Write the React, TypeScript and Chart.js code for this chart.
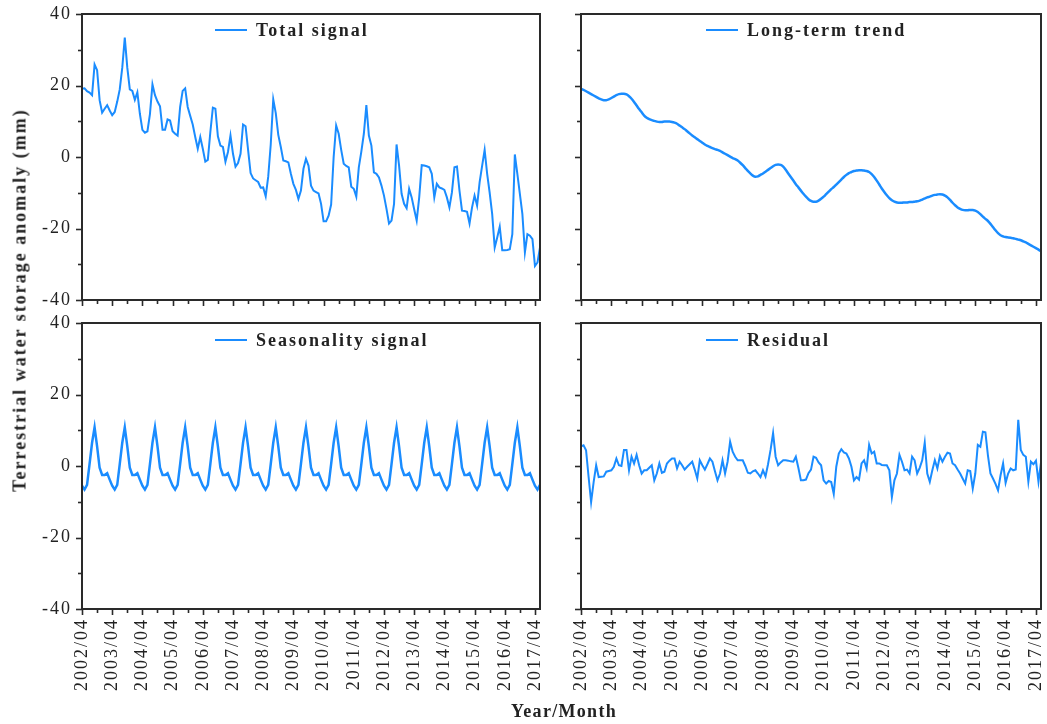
import React, { useEffect, useRef } from 'react';
import { Chart, registerables } from 'chart.js';

Chart.register(...registerables);

// ---------- categories (monthly, 2002/04 .. 2017/06) ----------
const MONTHS: string[] = [];
for (let i = 0; i < 183; i++) {
  const m = 3 + i;
  const yr = 2002 + Math.floor(m / 12);
  const mo = (m % 12) + 1;
  MONTHS.push(`${yr}/${String(mo).padStart(2, '0')}`);
}

const Y_MIN = -40;
const Y_MAX = 40;
const Y_STEP = 10;
const Y_LABEL_STEP = 20;

// ---------- series values (mm) ----------
const TOTAL_SIGNAL = [
  19.1, 19.2, 18.4, 18.0, 17.3, 25.9, 24.3, 15.9, 12.4, 13.5, 14.5, 13.0,
  11.7, 12.6, 15.5, 18.9, 25.0, 33.4, 25.0, 18.9, 18.5, 16.0, 18.1, 12.1,
  7.6, 6.8, 7.2, 12.0, 20.3, 17.3, 15.5, 14.2, 7.6, 7.6, 10.5, 10.2,
  7.2, 6.5, 6.0, 14.0, 18.5, 19.2, 14.0, 11.5, 9.1, 5.6, 2.3, 5.6,
  2.3, -1.3, -0.8, 7.0, 13.8, 13.5, 5.8, 3.2, 2.8, -1.3, 1.4, 6.0,
  0.9, -2.7, -1.7, 0.9, 9.1, 8.6, 2.0, -4.5, -6.0, -6.5, -7.0, -8.6,
  -8.5, -11.0, -5.5, 3.5, 16.1, 12.3, 6.2, 2.8, -1.0, -1.2, -1.5, -4.7,
  -7.5, -9.2, -11.7, -9.4, -3.3, -0.5, -2.4, -8.0, -9.4, -9.8, -10.2, -13.1,
  -18.0, -18.0, -16.4, -13.3, 0.0, 8.8, 6.5, 2.0, -1.9, -2.5, -2.9, -8.3,
  -8.9, -11.1, -2.9, 1.5, 6.5, 14.5, 6.0, 3.2, -4.3, -4.7, -5.7, -8.0,
  -10.8, -14.5, -18.6, -17.8, -13.1, 3.5, -2.4, -10.3, -13.1, -14.3, -8.9, -11.3,
  -14.6, -17.8, -11.3, -2.3, -2.4, -2.6, -2.9, -4.7, -11.3, -7.5, -8.5, -8.8,
  -9.2, -11.3, -14.1, -9.9, -2.9, -2.7, -9.4, -15.0, -15.1, -15.3, -18.6, -14.1,
  -10.8, -13.6, -7.1, -2.5, 2.0, -4.7, -10.0, -16.0, -25.3, -22.5, -19.5, -26.1,
  -26.1, -26.0, -25.8, -21.6, 0.7, -4.7, -10.3, -16.0, -26.7, -21.6, -22.0, -23.0,
  -30.5, -29.5, -25.3,
];

const LONG_TERM_TREND = [
  19.1, 18.8, 18.4, 18.0, 17.6, 17.2, 16.8, 16.4, 16.1, 15.9, 15.9, 16.1,
  16.5, 16.9, 17.3, 17.6, 17.7, 17.7, 17.5, 17.0, 16.3, 15.4, 14.4, 13.4,
  12.5, 11.6, 11.0, 10.6, 10.3, 10.1, 9.9, 9.8, 9.8, 9.9, 9.9, 9.9,
  9.8, 9.6, 9.3, 8.8, 8.3, 7.8, 7.2, 6.6, 6.0, 5.5, 5.0, 4.5,
  4.0, 3.5, 3.1, 2.8, 2.5, 2.2, 2.0, 1.7, 1.3, 0.9, 0.5, 0.1,
  -0.3, -0.6, -1.0, -1.6, -2.3, -3.1, -3.9, -4.6, -5.2, -5.5, -5.4, -5.0,
  -4.6, -4.1, -3.6, -3.1, -2.6, -2.2, -2.1, -2.2, -2.7, -3.6, -4.6, -5.6,
  -6.6, -7.6, -8.5, -9.4, -10.3, -11.1, -11.8, -12.3, -12.5, -12.5, -12.2, -11.7,
  -11.1, -10.4, -9.7, -9.0, -8.4, -7.7, -7.0, -6.3, -5.6, -5.0, -4.5, -4.2,
  -3.9, -3.8, -3.7, -3.7, -3.8, -3.9, -4.2, -4.8, -5.6, -6.6, -7.7, -8.8,
  -9.8, -10.7, -11.5, -12.1, -12.5, -12.7, -12.8, -12.8, -12.7, -12.7, -12.6, -12.6,
  -12.5, -12.4, -12.2, -11.9, -11.6, -11.3, -11.1, -10.8, -10.6, -10.5, -10.4, -10.5,
  -10.8, -11.3, -12.0, -12.8, -13.5, -14.1, -14.5, -14.8, -14.9, -14.9, -14.8, -14.8,
  -15.0, -15.4, -16.0, -16.7, -17.3, -17.9, -18.7, -19.6, -20.5, -21.3, -21.9, -22.2,
  -22.4, -22.5, -22.6, -22.7, -22.9, -23.1, -23.3, -23.6, -23.9, -24.3, -24.7, -25.1,
  -25.5, -25.9, -26.4,
];

const SEASONALITY_SIGNAL = [
  -5.5, -6.6, -5.3, 0.5, 6.5, 10.8, 5.5, -0.5, -2.5, -2.5, -2.0, -3.8,
  -5.5, -6.6, -5.3, 0.5, 6.5, 10.8, 5.5, -0.5, -2.5, -2.5, -2.0, -3.8,
  -5.5, -6.6, -5.3, 0.5, 6.5, 10.8, 5.5, -0.5, -2.5, -2.5, -2.0, -3.8,
  -5.5, -6.6, -5.3, 0.5, 6.5, 10.8, 5.5, -0.5, -2.5, -2.5, -2.0, -3.8,
  -5.5, -6.6, -5.3, 0.5, 6.5, 10.8, 5.5, -0.5, -2.5, -2.5, -2.0, -3.8,
  -5.5, -6.6, -5.3, 0.5, 6.5, 10.8, 5.5, -0.5, -2.5, -2.5, -2.0, -3.8,
  -5.5, -6.6, -5.3, 0.5, 6.5, 10.8, 5.5, -0.5, -2.5, -2.5, -2.0, -3.8,
  -5.5, -6.6, -5.3, 0.5, 6.5, 10.8, 5.5, -0.5, -2.5, -2.5, -2.0, -3.8,
  -5.5, -6.6, -5.3, 0.5, 6.5, 10.8, 5.5, -0.5, -2.5, -2.5, -2.0, -3.8,
  -5.5, -6.6, -5.3, 0.5, 6.5, 10.8, 5.5, -0.5, -2.5, -2.5, -2.0, -3.8,
  -5.5, -6.6, -5.3, 0.5, 6.5, 10.8, 5.5, -0.5, -2.5, -2.5, -2.0, -3.8,
  -5.5, -6.6, -5.3, 0.5, 6.5, 10.8, 5.5, -0.5, -2.5, -2.5, -2.0, -3.8,
  -5.5, -6.6, -5.3, 0.5, 6.5, 10.8, 5.5, -0.5, -2.5, -2.5, -2.0, -3.8,
  -5.5, -6.6, -5.3, 0.5, 6.5, 10.8, 5.5, -0.5, -2.5, -2.5, -2.0, -3.8,
  -5.5, -6.6, -5.3, 0.5, 6.5, 10.8, 5.5, -0.5, -2.5, -2.5, -2.0, -3.8,
  -5.5, -6.6, -5.3,
];

const RESIDUAL = [
  5.5, 5.8, 4.4, -3.0, -10.1, -4.5, 0.2, -3.1, -3.0, -2.9, -1.6, -1.4,
  -1.2, -0.2, 2.1, 0.2, 0.0, 4.5, 4.5, -1.2, 2.6, 0.7, 3.1, 0.2,
  -2.1, -1.2, -1.2, -0.5, 0.2, -4.0, -2.1, 0.7, -1.9, -1.6, 0.7, 1.5,
  2.1, 2.1, -0.7, 1.2, 0.2, -1.0, -0.2, 0.5, 1.2, -1.0, -3.5, 1.6,
  0.2, -1.0, 0.5, 2.1, 1.2, -1.5, -4.0, -2.1, 1.6, -2.1, 1.2, 6.8,
  4.0, 2.6, 1.6, 1.6, 1.6, 0.0, -1.9, -2.1, -1.5, -1.2, -2.1, -3.1,
  -1.2, -2.9, 0.5, 4.5, 9.2, 2.6, 0.2, 1.0, 1.6, 1.6, 1.5, 1.3,
  1.2, 2.6, -0.5, -4.0, -4.0, -3.8, -2.0, -1.0, 2.6, 2.3, 1.0, 0.2,
  -4.0, -4.9, -4.2, -4.5, -7.8, -0.2, 3.5, 4.7, 3.8, 3.5, 2.1, -0.2,
  -4.0, -3.1, -3.8, 0.7, 1.6, -0.7, 5.9, 3.5, 4.0, 0.7, 0.7, 0.3,
  0.2, 0.2, -1.2, -8.7, -4.0, -2.1, 3.1, 1.2, -1.2, -1.0, -2.1, 2.6,
  1.6, -2.1, -0.5, 1.6, 6.5, -2.1, -4.4, -1.2, 1.6, -0.7, 2.8, 1.2,
  2.6, 3.7, 3.5, 0.7, 0.2, -1.0, -2.1, -3.5, -4.9, -1.2, -1.4, -6.3,
  -2.1, 5.9, 5.4, 9.6, 9.4, 3.0, -2.1, -3.5, -5.0, -6.8, -2.6, 0.7,
  -4.7, -2.1, -0.7, -1.2, -1.0, 12.9, 4.5, 3.1, 2.6, -4.4, 1.2, 0.5,
  1.5, -4.4, 1.0,
];

// ---------- styling ----------
const LINE_COLOR = '#1a8cff';
const INK = '#222222';
const SERIF = "'Liberation Serif', 'Times New Roman', Times, serif";

type Box = { l: number; t: number; r: number; b: number };
type Cv = { x: number; y: number; w: number; h: number };

type PanelCfg = {
  name: string;
  values: number[];
  canvas: Cv;
  plot: Box;
  showX: boolean;
  showY: boolean;
  width: number;
  smooth: boolean;
  legendX: number;
  legendY: number;
};

const PANELS: PanelCfg[] = [
  {
    name: 'Total signal', values: TOTAL_SIGNAL,
    canvas: { x: 0, y: 0, w: 560, h: 312 }, plot: { l: 82, t: 14, r: 540, b: 300 },
    showX: false, showY: true, width: 2, smooth: false, legendX: 215, legendY: 29.5,
  },
  {
    name: 'Long-term trend', values: LONG_TERM_TREND,
    canvas: { x: 560, y: 0, w: 487, h: 312 }, plot: { l: 581, t: 14, r: 1041, b: 300 },
    showX: false, showY: false, width: 2.5, smooth: true, legendX: 706, legendY: 30,
  },
  {
    name: 'Seasonality signal', values: SEASONALITY_SIGNAL,
    canvas: { x: 0, y: 312, w: 560, h: 412 }, plot: { l: 82, t: 323, r: 540, b: 609 },
    showX: true, showY: true, width: 2.5, smooth: false, legendX: 215, legendY: 339.5,
  },
  {
    name: 'Residual', values: RESIDUAL,
    canvas: { x: 560, y: 312, w: 487, h: 412 }, plot: { l: 581, t: 323, r: 1041, b: 609 },
    showX: true, showY: false, width: 2, smooth: false, legendX: 706, legendY: 340,
  },
];

const spacingPlugin = {
  id: 'letterSpacing',
  beforeUpdate(chart: any) { (chart.ctx as any).letterSpacing = '2px'; },
  beforeDraw(chart: any) { (chart.ctx as any).letterSpacing = '2px'; },
};

const frameAndTicksPlugin = {
  id: 'frameAndTicks',
  afterDraw(chart: any) {
    const ctx = chart.ctx as CanvasRenderingContext2D;
    const { left, right, top, bottom } = chart.chartArea;
    ctx.save();
    ctx.strokeStyle = '#2a2a2a';
    ctx.lineWidth = 1.6;
    const xs = chart.scales.x;
    xs.ticks.forEach((t: any, i: number) => {
      if (i % 6 !== 0) return;
      const px = Math.round(xs.getPixelForTick(i)) + 0.5;
      const len = i % 12 === 0 ? 6 : 4;
      ctx.beginPath();
      ctx.moveTo(px, bottom);
      ctx.lineTo(px, bottom + len);
      ctx.stroke();
    });
    const ys = chart.scales.y;
    ys.ticks.forEach((t: any) => {
      const py = Math.round(ys.getPixelForValue(t.value)) + 0.5;
      const len = t.value % Y_LABEL_STEP === 0 ? 6 : 4;
      ctx.beginPath();
      ctx.moveTo(left, py);
      ctx.lineTo(left - len, py);
      ctx.stroke();
    });
    ctx.lineWidth = 2;
    ctx.strokeRect(left, top, right - left, bottom - top);
    ctx.restore();
  },
};

function Panel({ cfg }: { cfg: PanelCfg }) {
  const ref = useRef<HTMLCanvasElement | null>(null);
  useEffect(() => {
    if (!ref.current) return;
    const { canvas: cv, plot } = cfg;
    const tickFont = { family: SERIF, size: 18, weight: 'normal' as const };
    const chart = new Chart(ref.current, {
      type: 'line',
      data: {
        labels: MONTHS,
        datasets: [
          {
            label: cfg.name,
            data: cfg.values,
            borderColor: LINE_COLOR,
            backgroundColor: LINE_COLOR,
            borderWidth: cfg.width,
            pointRadius: 0,
            fill: false,
            tension: 0,
            cubicInterpolationMode: cfg.smooth ? 'monotone' : 'default',
          },
        ],
      },
      options: {
        responsive: false,
        animation: false,
        events: [],
        layout: {
          padding: {
            left: 0,
            bottom: 0,
            top: plot.t - cv.y,
            right: cv.x + cv.w - plot.r,
          },
        },
        plugins: { legend: { display: false }, tooltip: { enabled: false }, title: { display: false } },
        scales: {
          x: {
            type: 'category',
            offset: false,
            grid: { display: false, drawTicks: false, tickLength: 0 },
            border: { display: false },
            ticks: {
              display: cfg.showX,
              autoSkip: false,
              maxRotation: 90,
              minRotation: 90,
              padding: 9,
              color: INK,
              font: tickFont,
              callback: (_v: any, i: number) => (i % 12 === 0 ? MONTHS[i] : ''),
            },
            afterFit(s: any) {
              s.height = cv.y + cv.h - plot.b;
              s.paddingLeft = 0; s.paddingRight = 0; s.paddingTop = 0; s.paddingBottom = 0;
            },
          },
          y: {
            type: 'linear',
            min: Y_MIN,
            max: Y_MAX,
            grid: { display: false, drawTicks: false, tickLength: 0 },
            border: { display: false },
            ticks: {
              display: cfg.showY,
              stepSize: Y_STEP,
              padding: 10,
              color: INK,
              font: tickFont,
              callback: (v: any) => (Number(v) % Y_LABEL_STEP === 0 ? String(v) : ''),
            },
            afterFit(s: any) {
              s.width = plot.l - cv.x;
              s.paddingLeft = 0; s.paddingRight = 0; s.paddingTop = 0; s.paddingBottom = 0;
            },
          },
        },
      } as any,
      plugins: [spacingPlugin, frameAndTicksPlugin],
    });
    return () => chart.destroy();
  }, [cfg]);
  const { canvas: cv } = cfg;
  return (
    <canvas
      ref={ref}
      width={cv.w}
      height={cv.h}
      style={{ position: 'absolute', left: cv.x, top: cv.y, width: cv.w, height: cv.h }}
    />
  );
}

function Legend({ cfg }: { cfg: PanelCfg }) {
  return (
    <div
      style={{
        position: 'absolute', left: cfg.legendX, top: cfg.legendY,
        transform: 'translateY(-50%)', display: 'flex', alignItems: 'center',
        whiteSpace: 'nowrap',
      }}
    >
      <span style={{ display: 'inline-block', width: 32, height: 2, background: LINE_COLOR }} />
      <span
        style={{
          marginLeft: 9, fontFamily: SERIF, fontWeight: 'bold', fontSize: 18,
          letterSpacing: '2px', color: INK, lineHeight: '20px',
        }}
      >
        {cfg.name}
      </span>
    </div>
  );
}

export default function App() {
  useEffect(() => {
    document.body.style.margin = '0';
  }, []);
  return (
    <div style={{ position: 'absolute', left: 0, top: 0, width: 1047, height: 724, background: '#fff', overflow: 'hidden' }}>
      {PANELS.map((p) => (
        <Panel key={p.name} cfg={p} />
      ))}
      {PANELS.map((p) => (
        <Legend key={'lg' + p.name} cfg={p} />
      ))}
      <div
        style={{
          position: 'absolute', left: 20, top: 300, transform: 'translate(-50%, -50%) rotate(-90deg)',
          whiteSpace: 'nowrap', fontFamily: SERIF, fontWeight: 'bold', fontSize: 18,
          letterSpacing: '2px', color: INK,
        }}
      >
        Terrestrial water storage anomaly (mm)
      </div>
      <div
        style={{
          position: 'absolute', left: 564, top: 711, transform: 'translate(-50%, -50%)',
          whiteSpace: 'nowrap', fontFamily: SERIF, fontWeight: 'bold', fontSize: 18,
          letterSpacing: '1.3px', color: INK,
        }}
      >
        Year/Month
      </div>
    </div>
  );
}
